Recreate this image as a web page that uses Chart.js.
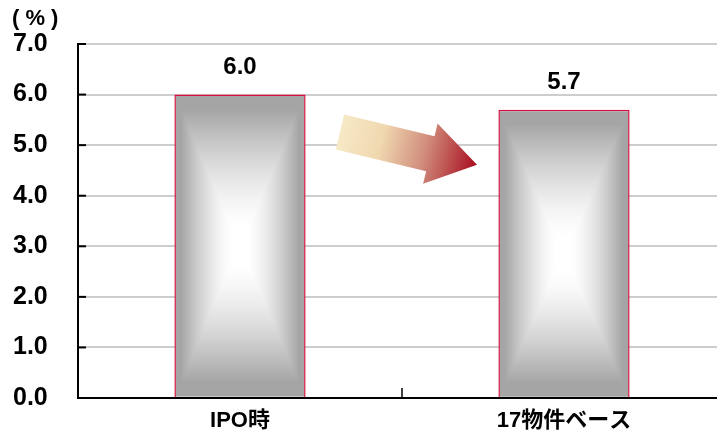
<!DOCTYPE html>
<html>
<head>
<meta charset="utf-8">
<script src="https://cdn.jsdelivr.net/npm/chart.js@4/dist/chart.umd.min.js"></script>
<style>
    body { margin: 0; overflow: hidden; background: #fff; }
    #wrap { width: 726px; height: 433px; }
</style>
</head>
<body>
<div id="wrap"><canvas id="yield" width="726" height="433"></canvas></div>
<script>
// chart values
const categories = ['IPO時', '17物件ベース'];
const yieldValues = [6.0, 5.7];
const yMin = 0;
const yMax = 7;
const yStep = 1;
const unitLabel = '( % )';

const FONT = '"Liberation Sans", Arial, "Noto Sans CJK JP", sans-serif';


/**
 * Gray "rectangle" gradient for a bar: white in the middle, gray at the edges
 */
function makeBarFill(w, h) {
    let cw = Math.max(1, Math.round(w));
    let ch = Math.max(1, Math.round(h));
    let off = document.createElement('canvas');
    off.width = cw;
    off.height = ch;
    let octx = off.getContext('2d');
    let img = octx.createImageData(cw, ch);
    let hw = cw / 2, hh = ch / 2;
    for (let j = 0; j < ch; j++) {
        for (let i = 0; i < cw; i++) {
            let t = Math.max(Math.abs(i + 0.5 - hw) / hw, Math.abs(j + 0.5 - hh) / hh);
            let s = Math.min(1, Math.max(0, (t - 0.1) / 0.8));
            s = Math.pow(s, 1.5);
            let c = Math.round(255 - 90 * s);
            let k = (j * cw + i) * 4;
            img.data[k] = c;
            img.data[k + 1] = c;
            img.data[k + 2] = c;
            img.data[k + 3] = 255;
        }
    }
    octx.putImageData(img, 0, 0);
    return off;
}


function drawArrow(ctx, tx, ty, hx, hy) {
    let ang = Math.atan2(hy - ty, hx - tx);
    let len = Math.hypot(hx - tx, hy - ty);
    ctx.save();
    ctx.translate(tx, ty);
    ctx.rotate(ang);
    let g = ctx.createLinearGradient(0, 0, len, 0);
    g.addColorStop(0, '#f7e9c6');
    g.addColorStop(0.3, '#f0d8b0');
    g.addColorStop(0.62, '#d08c7c');
    g.addColorStop(1, '#a80c1e');
    ctx.fillStyle = g;
    ctx.beginPath();
    ctx.moveTo(0, -18);
    ctx.lineTo(len - 48, -18);
    ctx.lineTo(len - 48, -31);
    ctx.lineTo(len, 0);
    ctx.lineTo(len - 48, 31);
    ctx.lineTo(len - 48, 18);
    ctx.lineTo(0, 18);
    ctx.closePath();
    ctx.fill();
    ctx.restore();
}


const chartDecor = {
    id: 'chartDecor',
    beforeDatasetsDraw(chart) {
        let ctx = chart.ctx;
        chart.getDatasetMeta(0).data.forEach(function (bar) {
            let left = bar.x - bar.width / 2;
            let top = Math.min(bar.y, bar.base);
            let h = Math.abs(bar.base - bar.y);
            let pat = ctx.createPattern(makeBarFill(bar.width, h), 'no-repeat');
            pat.setTransform(new DOMMatrix([1, 0, 0, 1, left, top]));
            bar.options.backgroundColor = pat;
        });
    },
    afterDatasetsDraw(chart) {
        let ctx = chart.ctx;
        let area = chart.chartArea;
        let x = chart.scales.x;
        let y = chart.scales.y;

        ctx.save();
        // axis line on top of the bars
        ctx.strokeStyle = '#000';
        ctx.lineWidth = 2;
        ctx.beginPath();
        ctx.moveTo(area.left - 1, area.bottom);
        ctx.lineTo(area.right, area.bottom);
        ctx.stroke();

        // inner tick marks
        for (let v = yMin; v <= yMax; v += yStep) {
            let py = y.getPixelForValue(v);
            ctx.beginPath();
            ctx.moveTo(area.left, py);
            ctx.lineTo(area.left + 8, py);
            ctx.stroke();
        }
        let divider = (x.getPixelForValue(0) + x.getPixelForValue(1)) / 2;
        ctx.lineWidth = 1.5;
        ctx.beginPath();
        ctx.moveTo(divider, area.bottom - 10);
        ctx.lineTo(divider, area.bottom);
        ctx.stroke();

        // value labels
        ctx.fillStyle = '#000';
        ctx.font = 'bold 24px ' + FONT;
        ctx.textAlign = 'center';
        ctx.textBaseline = 'alphabetic';
        chart.getDatasetMeta(0).data.forEach(function (bar, i) {
            ctx.fillText(yieldValues[i].toFixed(1), bar.x, bar.y - 21);
        });

        // arrow between the bars
        drawArrow(ctx, divider - 62, y.getPixelForValue(5.26), divider + 75, y.getPixelForValue(4.61));

        // unit
        ctx.font = 'bold 22px ' + FONT;
        ctx.textAlign = 'left';
        ctx.fillText(unitLabel, 12, 25);
        ctx.restore();
    }
};


let ctx = document.getElementById('yield').getContext('2d');
let chart = new Chart(ctx, {
    type: 'bar',
    data: {
        labels: categories,
        datasets: [{
            data: yieldValues,
            backgroundColor: function () { return '#a5a5a5'; },
            borderColor: '#d8103f',
            borderWidth: 1.5,
            barPercentage: 0.405,
            categoryPercentage: 1
        }]
    },
    options: {
        responsive: false,
        animation: false,
        layout: {
            padding: {top: 44, left: 13, right: 0, bottom: 2}
        },
        plugins: {
            legend: {display: false},
            tooltip: {enabled: false}
        },
        scales: {
            x: {
                grid: {display: false, drawTicks: false},
                border: {display: true, color: '#000', width: 2},
                afterFit: function (scale) { scale.height = 33; },
                ticks: {
                    color: '#000',
                    padding: 12,
                    font: {family: FONT, size: 22, weight: 'bold', lineHeight: 1}
                }
            },
            y: {
                min: yMin,
                max: yMax,
                grid: {color: '#cdcdcd', lineWidth: 2, drawTicks: false},
                border: {display: true, color: '#000', width: 2},
                afterFit: function (scale) { scale.width = 65; },
                ticks: {
                    stepSize: yStep,
                    color: '#000',
                    padding: 0,
                    crossAlign: 'far',
                    font: {family: FONT, size: 25, weight: 'bold'},
                    callback: function (v) { return v.toFixed(1); }
                }
            }
        }
    },
    plugins: [chartDecor]
});
</script>
</body>
</html>
